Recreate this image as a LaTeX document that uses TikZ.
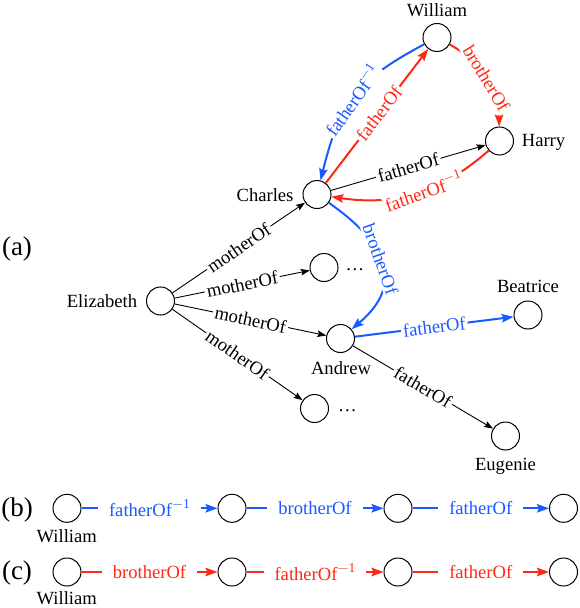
\documentclass[tikz,border=0pt]{standalone}
\usepackage{fontspec}
\setmainfont{Liberation Serif}
\usetikzlibrary{arrows.meta}
\definecolor{cblue}{RGB}{25,90,255}
\definecolor{cred}{RGB}{255,40,20}
\newcommand{\inv}{\raisebox{0.45em}{\fontsize{13.5bp}{14bp}\selectfont$-$1}}
\begin{document}
\begin{tikzpicture}[x=1bp,y=1bp,
  font=\fontsize{18.6bp}{22bp}\selectfont,
  ent/.style={circle,draw,line width=1bp,minimum size=28bp,inner sep=0pt},
  txt/.style={inner sep=0pt,anchor=base},
  part/.style={inner sep=0pt,anchor=base,font=\fontsize{27bp}{30bp}\selectfont},
  rel/.style={line width=0.9bp,-{Stealth[length=9bp,width=6.5bp,inset=1.5bp]}},
  relb/.style={line width=2bp,cblue,-{Stealth[length=12bp,width=8.5bp,inset=2bp]}},
  relr/.style={line width=2bp,cred,-{Stealth[length=12bp,width=8.5bp,inset=2bp]}},
  lab/.style={fill=white,inner sep=2bp,sloped},
  labrow/.style={fill=white,inner xsep=11bp,inner ysep=2bp},
]
\useasboundingbox (0,0) rectangle (580,-608);

% ---------- (a) ----------
\node[part] (ta) at (17,-255) {(a)};
\node[ent] (wil) at (437,-37.5) {};
\node[ent] (har) at (499.5,-141) {};
\node[ent] (cha) at (317,-194.5) {};
\node[ent] (eli) at (160.5,-301) {};
\node[ent] (d1)  at (324,-267.5) {};
\node[ent] (and) at (340.5,-338.5) {};
\node[ent] (bea) at (528,-315) {};
\node[ent] (d2)  at (314.5,-408.5) {};
\node[ent] (eug) at (505.5,-436) {};

\node[txt] (lwil) at (437,-16.5) {William};
\node[txt] (lhar) at (543.5,-146.7) {Harry};
\node[txt] (lcha) at (265,-201.7) {Charles};
\node[txt] (leli) at (102,-307.5) {Elizabeth};
\node[txt] (ld1)  at (355,-270) {\dots};
\node[txt] (land) at (341,-374) {Andrew};
\node[txt] (lbea) at (528,-292.7) {Beatrice};
\node[txt] (ld2)  at (347.5,-411) {\dots};
\node[txt] (leug) at (505.5,-470) {Eugenie};

% black edges
\draw[rel] (eli) -- node[lab]{motherOf} (cha);
\draw[rel] (eli) -- node[lab]{motherOf} (d1);
\draw[rel] (eli) -- node[lab]{motherOf} (and);
\draw[rel] (eli) -- node[lab]{motherOf} (d2);
\draw[rel] (and) -- node[lab]{fatherOf} (eug);
\draw[rel] (cha) -- node[lab]{fatherOf} (har);

% blue edges
\draw[relb] (wil) to[out=208,in=76,looseness=1.18] node[lab,text=cblue,pos=0.52]{fatherOf\inv} (cha);
\draw[relb] (cha) to[out=-35,in=40,looseness=1.4] node[lab,text=cblue,pos=0.46]{brotherOf} (and);
\draw[relb] (and) -- node[lab,text=cblue]{fatherOf} (bea);

% red edges
\draw[relr] (cha) -- node[lab,text=cred,pos=0.52]{fatherOf} (wil);
\draw[relr] (wil) to[bend left=30] node[lab,text=cred]{brotherOf} (har);
\draw[relr] (har) to[bend left=25] node[lab,text=cred,pos=0.45]{fatherOf\inv} (cha);

% ---------- (b) ----------
\node[part] (tb) at (17,-516) {(b)};
\node[ent] (b1) at (67,-508.3) {};
\node[ent] (b2) at (232,-508.3) {};
\node[ent] (b3) at (398,-508.3) {};
\node[ent] (b4) at (563.5,-508.3) {};
\node[txt] (lb1) at (66.7,-542) {William};
\draw[relb] (b1) -- node[labrow,text=cblue]{fatherOf\inv} (b2);
\draw[relb] (b2) -- node[labrow,text=cblue]{brotherOf} (b3);
\draw[relb] (b3) -- node[labrow,text=cblue]{fatherOf} (b4);

% ---------- (c) ----------
\node[part] (tc) at (17,-579.5) {(c)};
\node[ent] (c1) at (67,-572) {};
\node[ent] (c2) at (232,-572) {};
\node[ent] (c3) at (398,-572) {};
\node[ent] (c4) at (563.5,-572) {};
\node[txt] (lc1) at (66.7,-604.5) {William};
\draw[relr] (c1) -- node[labrow,text=cred]{brotherOf} (c2);
\draw[relr] (c2) -- node[labrow,text=cred]{fatherOf\inv} (c3);
\draw[relr] (c3) -- node[labrow,text=cred]{fatherOf} (c4);
\end{tikzpicture}
\end{document}
